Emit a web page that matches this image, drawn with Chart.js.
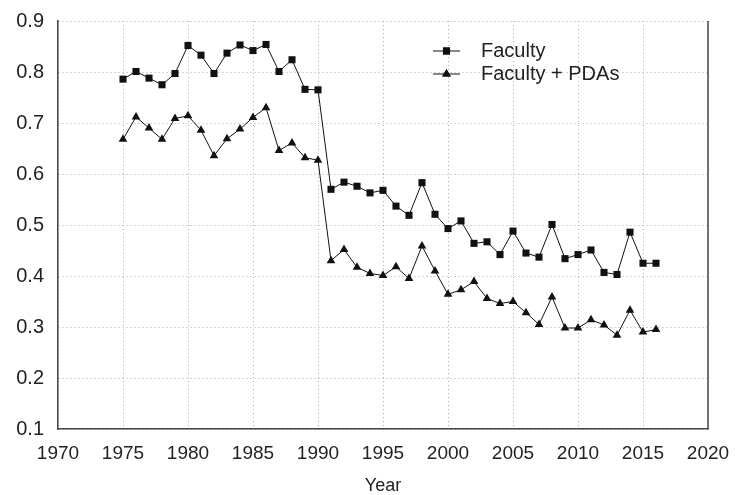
<!DOCTYPE html>
<html>
<head>
<meta charset="utf-8">
<script src="https://cdn.jsdelivr.net/npm/chart.js@4.4.1/dist/chart.umd.min.js"></script>
<style>
html,body{margin:0;padding:0;background:#fff;}
#wrap{width:738px;height:495px;position:relative;}
</style>
</head>
<body>
<div id="wrap"><canvas id="c" width="738" height="495"></canvas></div>
<script>
const years = [1975,1976,1977,1978,1979,1980,1981,1982,1983,1984,1985,1986,1987,1988,1989,1990,
  1991,1992,1993,1994,1995,1996,1997,1998,1999,2000,2001,2002,2003,2004,2005,2006,2007,2008,2009,2010,
  2011,2012,2013,2014,2015,2016];
const faculty = [0.786,0.801,0.788,0.775,0.797,0.852,0.833,0.797,0.837,0.853,0.842,0.854,0.801,0.824,0.766,0.765,
  0.570,0.584,0.576,0.563,0.568,0.537,0.519,0.583,0.521,0.493,0.508,0.464,0.467,0.442,0.488,0.445,0.437,0.501,0.434,0.442,
  0.451,0.407,0.403,0.486,0.425,0.425];
const facultyPDAs = [0.668,0.712,0.690,0.668,0.709,0.714,0.686,0.636,0.669,0.688,0.711,0.730,0.646,0.661,0.632,0.627,
  0.430,0.452,0.417,0.405,0.401,0.418,0.395,0.459,0.410,0.364,0.373,0.389,0.356,0.346,0.350,0.328,0.305,0.359,0.298,0.298,
  0.314,0.304,0.284,0.333,0.290,0.295];
const seriesLabels = ['Faculty','Faculty + PDAs'];
const xTicks = [1970,1975,1980,1985,1990,1995,2000,2005,2010,2015,2020];
const yTicks = [0.1,0.2,0.3,0.4,0.5,0.6,0.7,0.8,0.9];

const FONT = '"Liberation Sans",Arial,sans-serif';

const legendPlugin = {
  id: 'innerLegend',
  afterDraw(chart) {
    const ctx = chart.ctx;
    const ys = [51, 74];
    ctx.save();
    chart.data.datasets.forEach((ds, i) => {
      const y = ys[i];
      ctx.strokeStyle = '#111';
      ctx.lineWidth = 1;
      ctx.setLineDash([]);
      ctx.beginPath(); ctx.moveTo(433, y); ctx.lineTo(460, y); ctx.stroke();
      ctx.fillStyle = '#111';
      Chart.helpers.drawPoint(ctx, {pointStyle: ds.pointStyle, radius: ds.pointRadius, borderWidth: 0}, 446.5, y);
      ctx.fill();
      ctx.font = '20px ' + FONT;
      ctx.textBaseline = 'middle';
      ctx.textAlign = 'left';
      ctx.fillStyle = '#222';
      ctx.fillText(ds.label, 481, y);
    });
    ctx.restore();
  }
};

const rightBorder = {
  id: 'rightBorder',
  afterDatasetsDraw(chart) {
    const a = chart.chartArea, ctx = chart.ctx;
    ctx.save();
    ctx.strokeStyle = '#444';
    ctx.lineWidth = 1.5;
    ctx.beginPath(); ctx.moveTo(a.right, a.top); ctx.lineTo(a.right, a.bottom); ctx.stroke();
    ctx.restore();
  }
};

new Chart(document.getElementById('c'), {
  type: 'line',
  data: {
    datasets: [
      { label: seriesLabels[0], data: years.map((x,i)=>({x, y: faculty[i]})),
        borderColor:'#111', backgroundColor:'#111', borderWidth:1, pointStyle:'rect', pointRadius:5,
        pointBorderWidth:0, pointBackgroundColor:'#111', tension:0 },
      { label: seriesLabels[1], data: years.map((x,i)=>({x, y: facultyPDAs[i]})),
        borderColor:'#111', backgroundColor:'#111', borderWidth:1, pointStyle:'triangle', pointRadius:5,
        pointBorderWidth:0, pointBackgroundColor:'#111', tension:0 }
    ]
  },
  options: {
    responsive: false,
    animation: false,
    events: [],
    layout: { padding: { top: 21, right: 30, left: 0, bottom: 0 } },
    plugins: { legend: { display: false }, tooltip: { enabled: false } },
    scales: {
      x: {
        type: 'linear', min: 1970, max: 2020,
        afterBuildTicks(s) { s.ticks = xTicks.map(v => ({value: v})); },
        afterFit(s) { s.height = 66; s.paddingLeft = 0; s.paddingRight = 0; },
        ticks: { callback: v => String(v), color:'#222', font:{family:FONT, size:19}, padding: 13, maxRotation:0, autoSkip:false },
        grid: { color:'#aaa', lineWidth:1, drawTicks:false },
        border: { color:'#444', width:1.5, dash:[1,3] },
        title: { display:true, text:'Year', color:'#222', font:{family:FONT, size:18, lineHeight:1}, padding:{top:2,bottom:0} }
      },
      y: {
        min: 0.1, max: 0.9,
        afterBuildTicks(s) { s.ticks = yTicks.map(v => ({value: v})); },
        afterFit(s) { s.width = 58; s.paddingTop = 0; s.paddingBottom = 0; },
        ticks: { callback: v => v.toFixed(1), color:'#222', font:{family:FONT, size:20}, padding: 14 },
        grid: { color:'#aaa', lineWidth:1, drawTicks:false },
        border: { color:'#444', width:1.5, dash:[1,3] }
      }
    }
  },
  plugins: [legendPlugin, rightBorder]
});
</script>
</body>
</html>
